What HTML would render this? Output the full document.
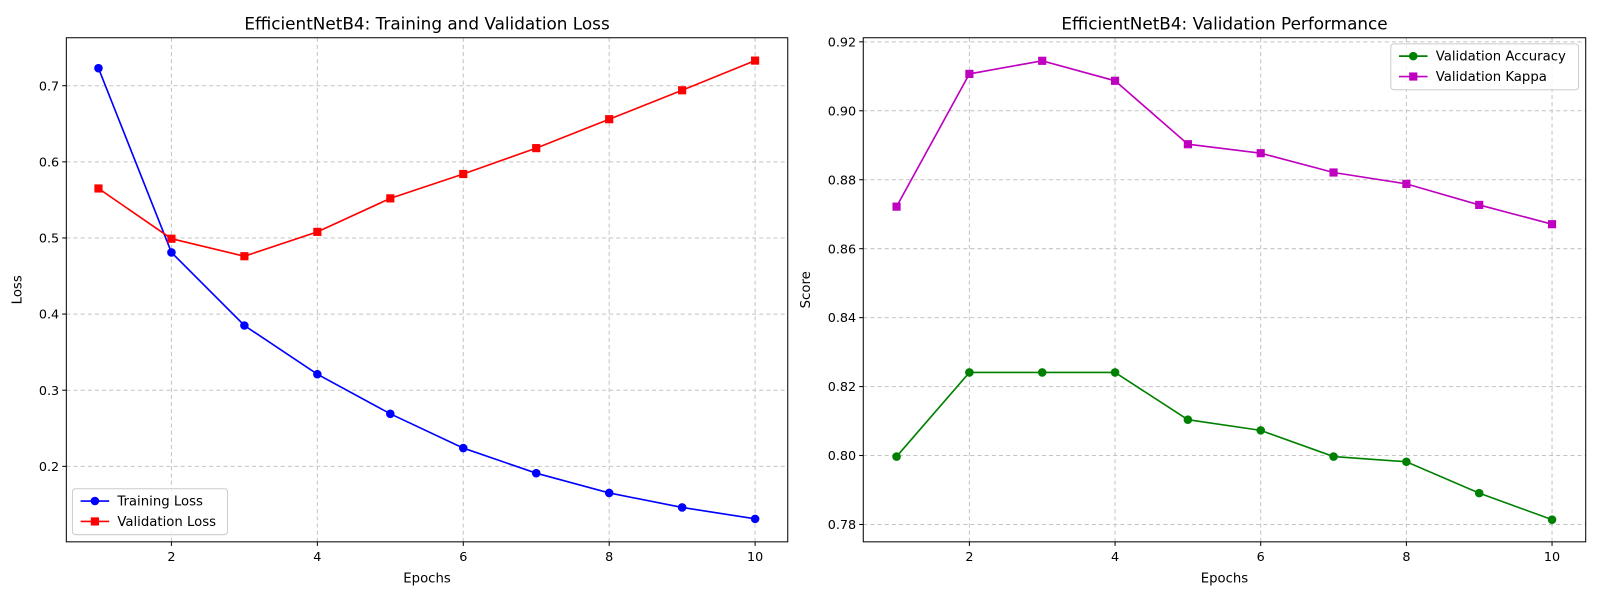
<!DOCTYPE html>
<html><head><meta charset="utf-8"><style>
body{margin:0;background:#fff;font-family:"Liberation Sans","DejaVu Sans",sans-serif;}
svg text{font-family:"DejaVu Sans","Liberation Sans",sans-serif;}
</style></head><body>
<svg id="chart" width="1600" height="600" viewBox="0 0 1568 588" preserveAspectRatio="none" xmlns="http://www.w3.org/2000/svg"></svg>
<script>
const epochs=[1,2,3,4,5,6,7,8,9,10];
const trainLoss=[0.723,0.481,0.385,0.321,0.269,0.224,0.191,0.165,0.146,0.131];
const valLoss=[0.565,0.499,0.476,0.508,0.552,0.584,0.618,0.656,0.694,0.733];
const valAcc=[0.7997,0.8241,0.8241,0.8241,0.8104,0.8073,0.7997,0.7982,0.7891,0.7814];
const valKappa=[0.8722,0.9107,0.9145,0.9087,0.8903,0.8877,0.8821,0.8788,0.8727,0.8671];
const xTicks=[2,4,6,8,10];
const lossTicks=[0.2,0.3,0.4,0.5,0.6,0.7];
const scoreTicks=[0.78,0.80,0.82,0.84,0.86,0.88,0.90,0.92];

const svg=document.getElementById('chart');
const NS='http://www.w3.org/2000/svg';
function mk(tag,attrs,parent,text){const e=document.createElementNS(NS,tag);for(const k in attrs)e.setAttribute(k,attrs[k]);if(text!==undefined)e.textContent=text;(parent||svg).appendChild(e);return e;}

function panel(cfg){
  const g=mk('g',{});
  
  
  const X=v=>cfg.x0+(v-cfg.e0)*(cfg.x1-cfg.x0)/(cfg.e1-cfg.e0);
  const Y=v=>cfg.y0+(v-cfg.v0)*(cfg.y1-cfg.y0)/(cfg.v1-cfg.v0);
  xTicks.forEach(t=>{const l=mk('line',{x1:X(t),x2:X(t),y1:cfg.top,y2:cfg.bot,stroke:'#c4c4c4','stroke-dasharray':'4,3','stroke-width':1},g);
    });
  cfg.yTicks.forEach(t=>{const l=mk('line',{x1:cfg.left,x2:cfg.right,y1:Y(t),y2:Y(t),stroke:'#c4c4c4','stroke-dasharray':'4,3','stroke-width':1},g);
    });
  xTicks.forEach(t=>{mk('line',{x1:X(t),x2:X(t),y1:cfg.bot,y2:cfg.bot+4,stroke:'#000'},g);
    const tx=mk('text',{x:X(t),y:cfg.bot+19,'text-anchor':'middle','font-size':12.5},g,String(t));
    });
  cfg.yTicks.forEach(t=>{mk('line',{x1:cfg.left-4,x2:cfg.left,y1:Y(t),y2:Y(t),stroke:'#000'},g);
    const tx=mk('text',{x:cfg.left-7,y:Y(t)+4.5,'text-anchor':'end','font-size':12.5},g,t.toFixed(cfg.dec));
    });
  const fr=mk('rect',{x:cfg.left,y:cfg.top,width:cfg.right-cfg.left,height:cfg.bot-cfg.top,fill:'none',stroke:'#000','stroke-width':1},g);
  
  const tt=mk('text',{x:(cfg.left+cfg.right)/2,y:29,'text-anchor':'middle','font-size':16.5},g,cfg.title);
  
  const xl=mk('text',{x:(cfg.left+cfg.right)/2,y:571,'text-anchor':'middle','font-size':13},g,'Epochs');
  
  const yx=cfg.left-cfg.ylabOff, yy=(cfg.top+cfg.bot)/2;
  const yl=mk('text',{x:yx,y:yy,'text-anchor':'middle','font-size':13,transform:`rotate(-90 ${yx} ${yy})`},g,cfg.ylab);
  
  cfg.series.forEach(s=>{
    const pts=epochs.map((e,i)=>X(e)+','+Y(s.data[i])).join(' ');
    const pl=mk('polyline',{points:pts,fill:'none',stroke:s.color,'stroke-width':1.6},g);
    
    epochs.forEach((e,i)=>{
      let m;
      if(s.marker==='o') m=mk('circle',{cx:X(e),cy:Y(s.data[i]),r:4.2,fill:s.color},g);
      else m=mk('rect',{x:X(e)-4,y:Y(s.data[i])-4,width:8,height:8,fill:s.color},g);
      
    });
  });
  const L=cfg.legend;
  const lg=mk('g',{},g);
  mk('rect',{x:L.x,y:L.y,width:L.w,height:45,rx:3,fill:'#fff','fill-opacity':0.8,stroke:'#ccc'},lg);
  cfg.series.forEach((s,i)=>{
    const cy=L.y+12+i*20;
    const e=mk('g',{},lg);
    mk('line',{x1:L.x+8,x2:L.x+36,y1:cy,y2:cy,stroke:s.color,'stroke-width':1.6},e);
    if(s.marker==='o') mk('circle',{cx:L.x+22,cy:cy,r:4.2,fill:s.color},e);
    else mk('rect',{x:L.x+18,y:cy-4,width:8,height:8,fill:s.color},e);
    mk('text',{x:L.x+44,y:cy+4.5,'font-size':13},e,s.label);
  });
}

panel({name:'loss-panel',left:65,right:772,top:37,bot:531,x0:168,x1:740,e0:2,e1:10,y0:457,y1:84,v0:0.2,v1:0.7,
  yTicks:lossTicks,dec:1,title:'EfficientNetB4: Training and Validation Loss',ylab:'Loss',ylabOff:44,
  series:[{name:'training-loss',label:'Training Loss',data:trainLoss,color:'#0000ff',marker:'o'},
          {name:'validation-loss',label:'Validation Loss',data:valLoss,color:'#ff0000',marker:'s'}],
  legend:{x:71,y:479,w:152}});
panel({name:'performance-panel',left:846,right:1554,top:37,bot:531,x0:950,x1:1521,e0:2,e1:10,y0:514,y1:41,v0:0.78,v1:0.92,
  yTicks:scoreTicks,dec:2,title:'EfficientNetB4: Validation Performance',ylab:'Score',ylabOff:52,
  series:[{name:'validation-accuracy',label:'Validation Accuracy',data:valAcc,color:'#008000',marker:'o'},
          {name:'validation-kappa',label:'Validation Kappa',data:valKappa,color:'#bf00bf',marker:'s'}],
  legend:{x:1363,y:43,w:184}});
</script>
</body></html>
